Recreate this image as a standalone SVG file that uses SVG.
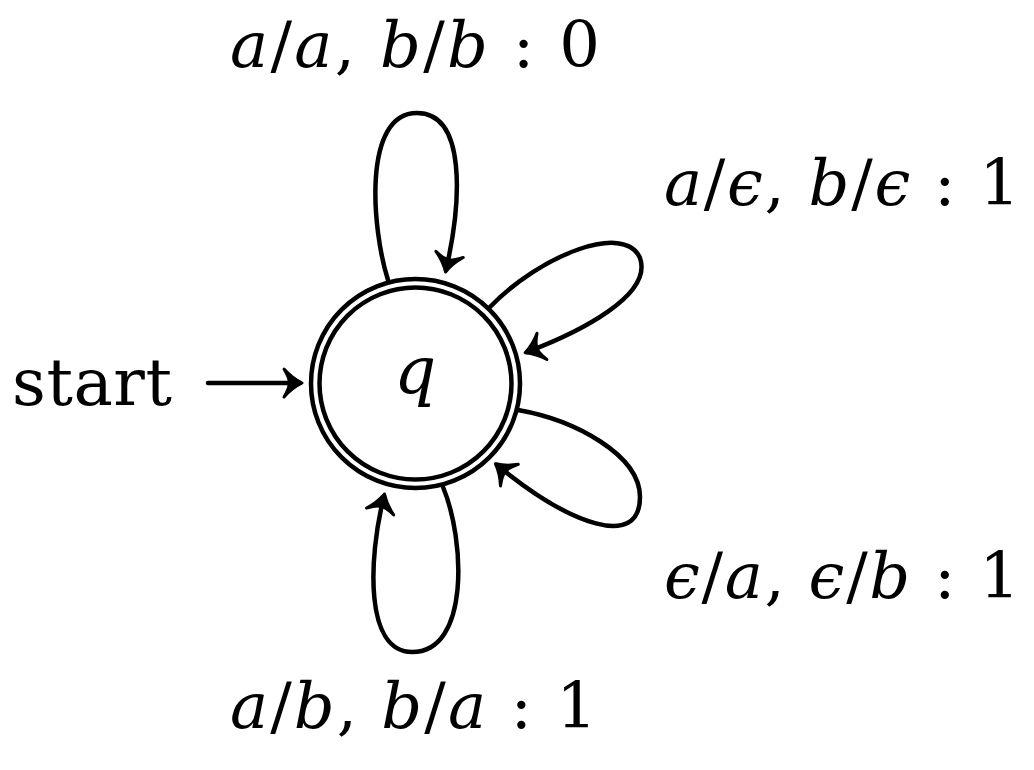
<svg xmlns="http://www.w3.org/2000/svg" width="1034" height="770" viewBox="0 0 1034 770">
<style>
.lbl{font-size:64px}
.i{font-style:italic}
.edge{fill:none;stroke:#000;stroke-width:4.5;stroke-linecap:round}
.ring{fill:none;stroke:#000;stroke-width:4.5}
</style>
<defs>
<marker id="ah" markerUnits="userSpaceOnUse" orient="auto" refX="0" refY="0" markerWidth="40" markerHeight="40" overflow="visible">
<path d="M2,0 Q-8,-5 -16,-14 Q-10,-4 -11,0 Q-10,4 -16,14 Q-8,5 2,0 Z" fill="#000" stroke="#000" stroke-width="3" stroke-linejoin="round"/>
</marker>
</defs>
<g id="node-q">
<circle class="ring" cx="415.5" cy="383.5" r="104.5"/>
<circle class="ring" cx="415.5" cy="383.5" r="96"/>
<text font-family="DejaVu Serif" class="i" x="415" y="393" font-size="66" text-anchor="middle">q</text>
</g>
<g id="start-label">
<text font-family="DejaVu Serif" x="12" y="405" font-size="66" textLength="160" lengthAdjust="spacing">start</text>
</g>
<g id="connectors">
<path class="edge" d="M208,383 L300,383" marker-end="url(#ah)"/>
<path class="edge" d="M388,280 C372,230 362,113 417,113 C466,113 462,200 446,270" marker-end="url(#ah)"/>
<path class="edge" d="M490,307 C540,255 625,222 640,258 C653,295 580,332 527,352" marker-end="url(#ah)"/>
<path class="edge" d="M518,410 C575,420 640,455 640,497 C640,550 570,525 497,465" marker-end="url(#ah)"/>
<path class="edge" d="M443,487 C465,540 470,652 412,652 C365,652 368,560 384,496" marker-end="url(#ah)"/>
</g>
<g id="labels" font-family="DejaVu Serif">
<text class="lbl" x="230" y="67" textLength="370" lengthAdjust="spacing"><tspan class="i">a</tspan>/<tspan class="i">a</tspan>, <tspan class="i">b</tspan>/<tspan class="i">b</tspan> : 0</text>
<text class="lbl" x="664" y="205" textLength="356" lengthAdjust="spacing"><tspan class="i">a</tspan>/<tspan class="i">ϵ</tspan>, <tspan class="i">b</tspan>/<tspan class="i">ϵ</tspan> : 1</text>
<text class="lbl" x="664" y="598" textLength="356" lengthAdjust="spacing"><tspan class="i">ϵ</tspan>/<tspan class="i">a</tspan>, <tspan class="i">ϵ</tspan>/<tspan class="i">b</tspan> : 1</text>
<text class="lbl" x="230" y="728" textLength="367" lengthAdjust="spacing"><tspan class="i">a</tspan>/<tspan class="i">b</tspan>, <tspan class="i">b</tspan>/<tspan class="i">a</tspan> : 1</text>
</g>
</svg>
